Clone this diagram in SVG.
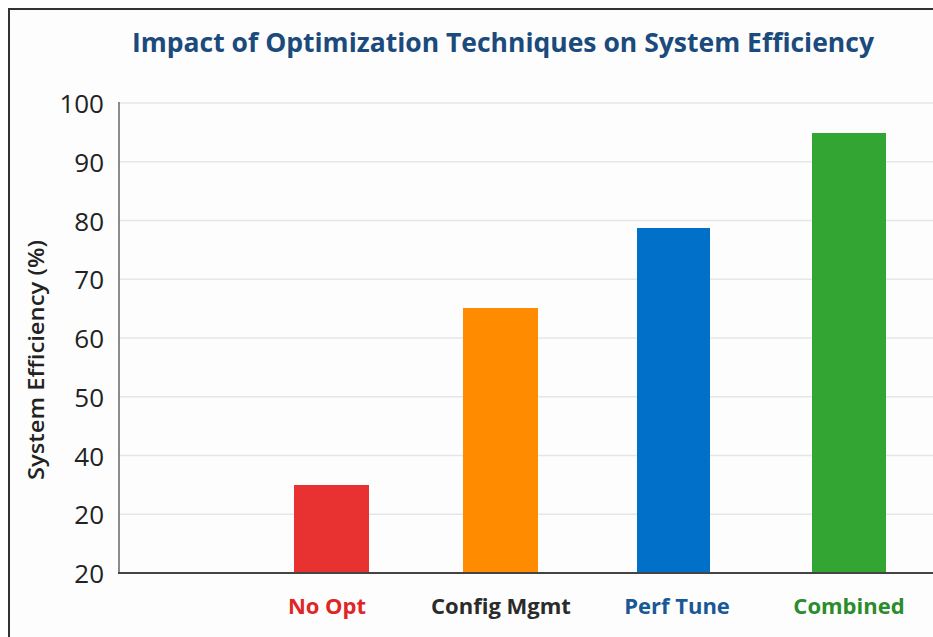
<svg xmlns="http://www.w3.org/2000/svg" width="933" height="637" viewBox="0 0 933 637">
<style>
.tick{font-family:"Open Sans","Liberation Sans",sans-serif;font-size:26px;fill:#222;text-anchor:end}
.grid{stroke:#e6e6e6;stroke-width:1.5}
.xl{font-family:"Open Sans","Liberation Sans",sans-serif;font-size:22px;font-weight:700;text-anchor:middle}
</style>
<rect x="0" y="0" width="933" height="637" fill="#ffffff"/>
<rect x="9" y="9" width="940" height="650" fill="#fdfdfd" stroke="#333" stroke-width="2"/>
<text x="503" y="52" font-family="'Open Sans','Liberation Sans',sans-serif" font-size="27" font-weight="700" fill="#1b4a7c" text-anchor="middle" textLength="742" lengthAdjust="spacingAndGlyphs">Impact of Optimization Techniques on System Efficiency</text>
<g id="grid">
<line class="grid" x1="119" y1="103" x2="933" y2="103"/>
<line class="grid" x1="119" y1="161.75" x2="933" y2="161.75"/>
<line class="grid" x1="119" y1="220.5" x2="933" y2="220.5"/>
<line class="grid" x1="119" y1="279.25" x2="933" y2="279.25"/>
<line class="grid" x1="119" y1="338" x2="933" y2="338"/>
<line class="grid" x1="119" y1="396.75" x2="933" y2="396.75"/>
<line class="grid" x1="119" y1="455.5" x2="933" y2="455.5"/>
<line class="grid" x1="119" y1="514.25" x2="933" y2="514.25"/>
</g>
<g id="yticks">
<text class="tick" x="104" y="113">100</text>
<text class="tick" x="104" y="172">90</text>
<text class="tick" x="104" y="230.5">80</text>
<text class="tick" x="104" y="289">70</text>
<text class="tick" x="104" y="348">60</text>
<text class="tick" x="104" y="406.5">50</text>
<text class="tick" x="104" y="465.5">40</text>
<text class="tick" x="104" y="524">20</text>
<text class="tick" x="104" y="583">20</text>
</g>
<text transform="translate(44,360) rotate(-90)" font-family="'Open Sans','Liberation Sans',sans-serif" font-size="22" font-weight="600" fill="#222" text-anchor="middle" textLength="240" lengthAdjust="spacingAndGlyphs">System Efficiency (%)</text>
<g id="bar-noopt"><rect x="294" y="485" width="75" height="88" fill="#e83232"/></g>
<g id="bar-config"><rect x="463" y="308" width="75" height="265" fill="#ff8c00"/></g>
<g id="bar-perf"><rect x="637" y="228" width="73" height="345" fill="#0070c9"/></g>
<g id="bar-combined"><rect x="812" y="133" width="74" height="440" fill="#33a532"/></g>
<g id="axes">
<line x1="119" y1="102" x2="119" y2="574" stroke="#666" stroke-width="1.5"/>
<line x1="118" y1="573" x2="933" y2="573" stroke="#444" stroke-width="2"/>
</g>
<g id="xlabels">
<text class="xl" x="327" y="614" fill="#e02525">No Opt</text>
<text class="xl" x="501" y="614" fill="#2b2b2b">Config Mgmt</text>
<text class="xl" x="677" y="614" fill="#1a5796">Perf Tune</text>
<text class="xl" x="849" y="614" fill="#2a8c2a">Combined</text>
</g>
</svg>
